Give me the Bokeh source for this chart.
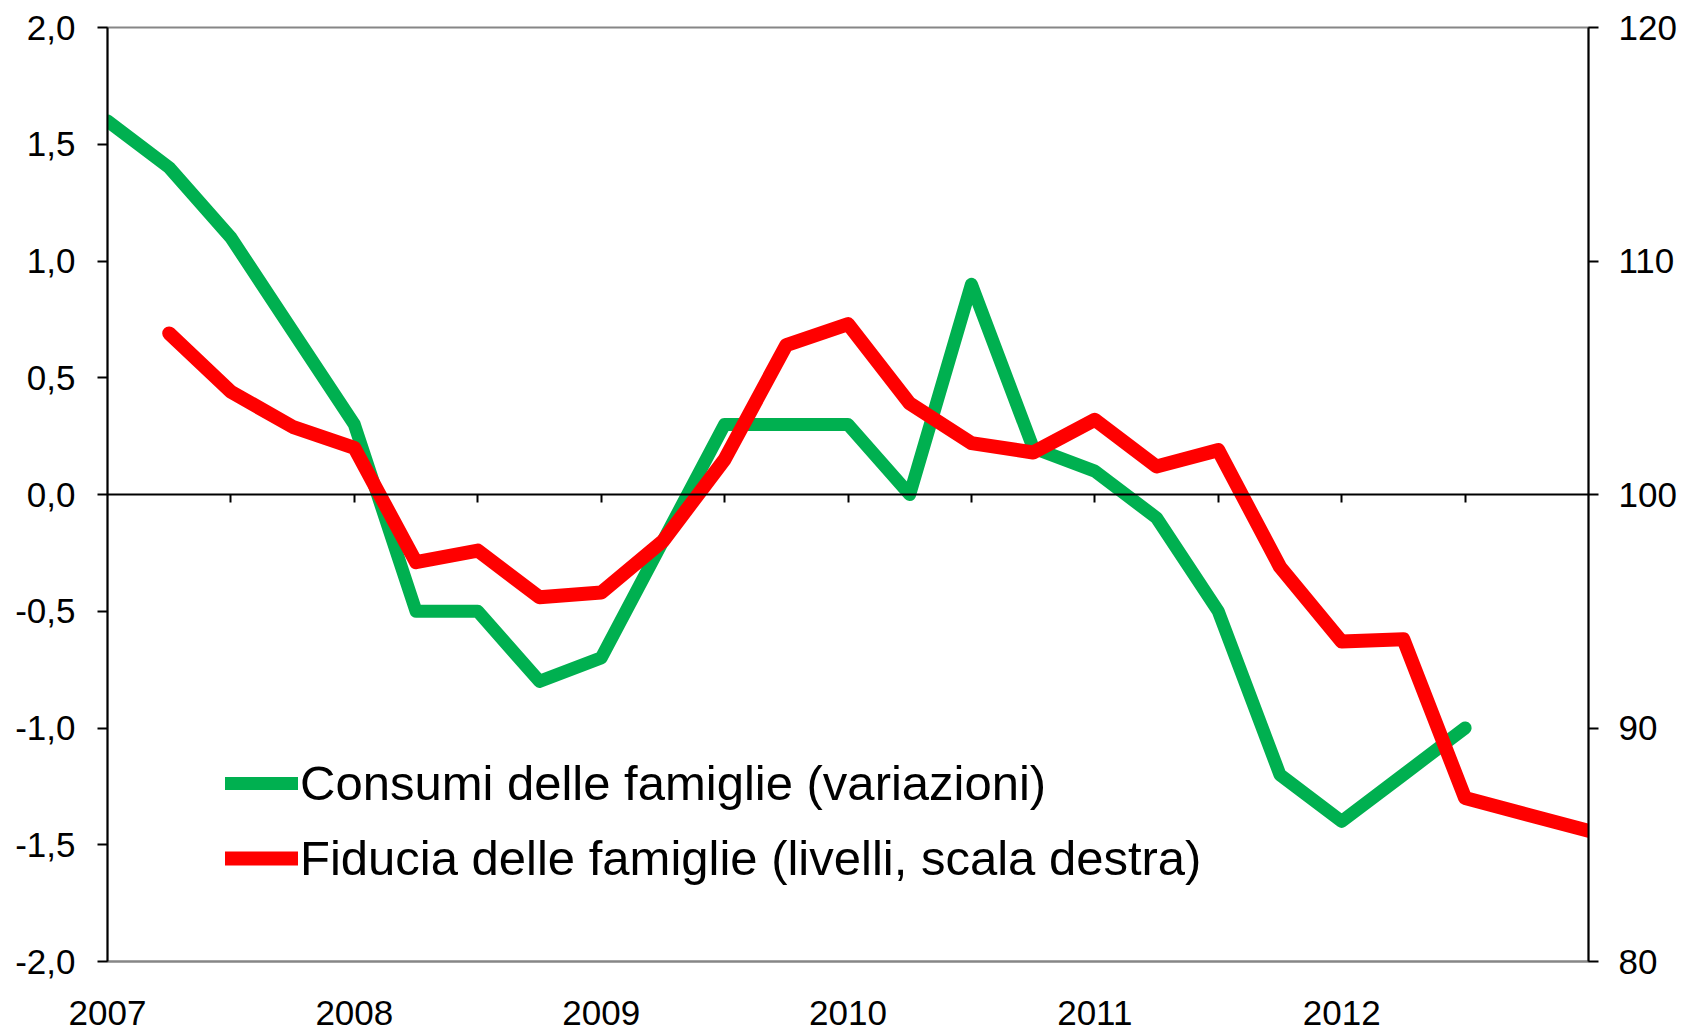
from bokeh.plotting import figure
from bokeh.models import Range1d, LinearAxis, FixedTicker, Legend, LegendItem
from bokeh.embed import file_html
from bokeh.resources import INLINE

# ---- data ----
start_year = 2007
years = [2007, 2008, 2009, 2010, 2011, 2012]
year_labels = ["2007", "2008", "2009", "2010", "2011", "2012"]
# quarterly series, first point at quarter index 0 (2007 start)
consumi = [1.6, 1.4, 1.1, 0.7, 0.3, -0.5, -0.5, -0.8, -0.7, -0.2, 0.3, 0.3,
           0.3, 0.0, 0.9, 0.2, 0.1, -0.1, -0.5, -1.2, -1.4, -1.2, -1.0]
consumi_start_q = 0
# confidence, first point at quarter index 1
fiducia = [106.9, 104.4, 102.9, 102.0, 97.1, 97.6, 95.6, 95.8, 98.0, 101.5,
           106.4, 107.3, 103.9, 102.2, 101.8, 103.2, 101.2, 101.9, 96.9, 93.7,
           93.8, 87.0, 86.3, 85.6]
fiducia_start_q = 1
left_ticks = [-2.0, -1.5, -1.0, -0.5, 0.0, 0.5, 1.0, 1.5, 2.0]
left_tick_labels = ["-2,0", "-1,5", "-1,0", "-0,5", "0,0", "0,5", "1,0", "1,5", "2,0"]
right_ticks = [80, 90, 100, 110, 120]
right_tick_labels = ["80", "90", "100", "110", "120"]
label_consumi = "Consumi delle famiglie (variazioni)"
label_fiducia = "Fiducia delle famiglie (livelli, scala destra)"

x_consumi = [start_year + (consumi_start_q + i) / 4 for i in range(len(consumi))]
x_fiducia = [start_year + (fiducia_start_q + i) / 4 for i in range(len(fiducia))]
half_year_ticks = [y + h for y in years for h in (0.0, 0.5)][1:]

FONT = "Liberation Sans"
GREEN = "#00B050"
RED = "#FF0000"
GRAY = "#868686"

p = figure(width=1684, height=1034, output_backend="svg", toolbar_location=None,
           x_range=Range1d(2007, 2013), y_range=Range1d(-2, 2),
           min_border_left=107, min_border_right=96, min_border_top=27,
           min_border_bottom=73, x_axis_location=None, y_axis_location=None)
p.extra_y_ranges = {"right": Range1d(80, 120)}
p.xgrid.visible = False
p.ygrid.visible = False
p.outline_line_color = GRAY
p.outline_line_width = 2
p.background_fill_color = "white"
p.border_fill_color = "white"

# left axis
ly = LinearAxis(ticker=FixedTicker(ticks=left_ticks),
                major_label_overrides={t: s for t, s in zip(left_ticks, left_tick_labels)})
# right axis
ry = LinearAxis(y_range_name="right", ticker=FixedTicker(ticks=right_ticks),
                major_label_overrides={t: s for t, s in zip(right_ticks, right_tick_labels)})
for ax in (ly, ry):
    ax.axis_line_color = "black"
    ax.axis_line_width = 2
    ax.major_tick_line_color = "black"
    ax.major_tick_line_width = 2
    ax.major_tick_out = 10
    ax.major_tick_in = 0
    ax.minor_tick_out = 0
    ax.minor_tick_in = 0
    ax.major_label_text_font = FONT
    ax.major_label_text_font_size = "35px"
    ax.major_label_text_color = "black"
ly.major_label_standoff = 22
ry.major_label_standoff = 20
p.add_layout(ly, "left")
p.add_layout(ry, "right")

# bottom axis with year labels (no ticks)
bx = LinearAxis(ticker=FixedTicker(ticks=years),
                major_label_overrides={t: s for t, s in zip(years, year_labels)})
bx.axis_line_color = GRAY
bx.axis_line_width = 2
bx.major_tick_out = 0
bx.major_tick_in = 0
bx.minor_tick_out = 0
bx.minor_tick_in = 0
bx.major_label_standoff = 39
bx.major_label_text_font = FONT
bx.major_label_text_font_size = "35px"
bx.major_label_text_color = "black"
p.add_layout(bx, "below")

# zero line axis with half-year ticks pointing down (no labels)
zx = LinearAxis(ticker=FixedTicker(ticks=half_year_ticks), fixed_location=0,
                major_label_overrides={t: "" for t in half_year_ticks})
zx.axis_line_color = "black"
zx.axis_line_width = 2
zx.major_tick_line_color = "black"
zx.major_tick_line_width = 2
zx.major_tick_out = 0
zx.major_tick_in = 8
zx.minor_tick_out = 0
zx.minor_tick_in = 0
zx.major_label_text_font_size = "10px"
zx.major_label_standoff = 0
p.add_layout(zx, "above")

r1 = p.line(x_consumi, consumi, line_color=GREEN, line_width=13,
            line_cap="round", line_join="round")
r2 = p.line(x_fiducia, fiducia, y_range_name="right", line_color=RED,
            line_width=14, line_cap="round", line_join="round")

legend = Legend(items=[LegendItem(label=label_consumi, renderers=[r1]),
                       LegendItem(label=label_fiducia, renderers=[r2])],
                location=(118, 73), orientation="vertical",
                background_fill_alpha=0, border_line_alpha=0,
                label_text_font=FONT, label_text_font_size="49px",
                label_text_color="black",
                glyph_width=73, glyph_height=60, label_height=60,
                label_standoff=2, spacing=15, padding=0, margin=0)
p.add_layout(legend, "center")

open("out.html", "w").write(file_html(p, INLINE))
